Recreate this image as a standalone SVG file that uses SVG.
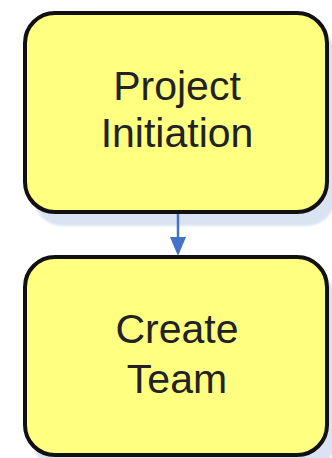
<svg xmlns="http://www.w3.org/2000/svg" width="332" height="458" viewBox="0 0 332 458">
<defs>
<style>
.box{fill:#FFFF80;stroke:#111;stroke-width:4}
.sh{fill:#DAE3F2}
.lbl{font-family:"Liberation Sans",Arial,sans-serif;font-size:41px;fill:#222;text-anchor:middle}
.conn{stroke:#4472C4;stroke-width:2.5;fill:none}
</style>
<filter id="blur" x="-10%" y="-10%" width="120%" height="120%"><feGaussianBlur stdDeviation="1"/></filter>
</defs>
<rect width="332" height="458" fill="#fff"/>
<g id="node-project-initiation">
<rect class="sh" x="33" y="27" width="303" height="199" rx="30" filter="url(#blur)"/>
<rect class="box" x="25" y="13" width="302" height="199" rx="30"/>
<text class="lbl" x="177" y="100">Project</text>
<text class="lbl" x="177" y="147">Initiation</text>
</g>
<g id="node-create-team">
<rect class="sh" x="33" y="271" width="303" height="199" rx="30" filter="url(#blur)"/>
<rect class="box" x="25" y="257" width="302" height="198" rx="30"/>
<text class="lbl" x="177" y="343">Create</text>
<text class="lbl" x="177" y="393">Team</text>
</g>
<g id="connectors">
<line class="conn" x1="178" y1="214" x2="178" y2="240"/>
<polygon points="170,237 186,237 178,256" fill="#4472C4"/>
</g>
</svg>
